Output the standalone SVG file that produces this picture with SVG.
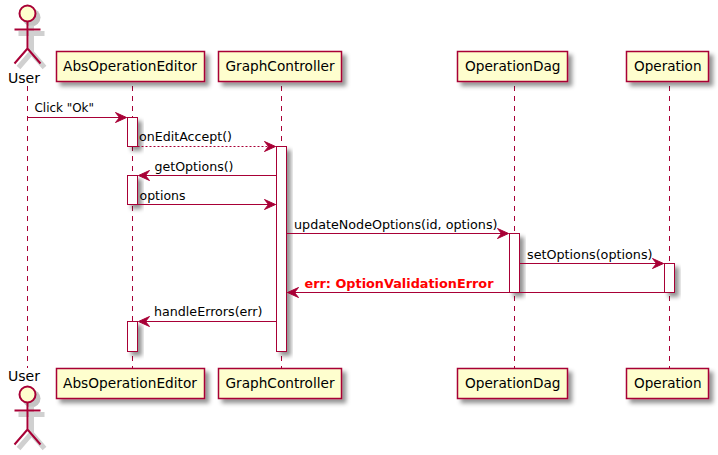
<svg xmlns="http://www.w3.org/2000/svg" width="718" height="455" viewBox="0 0 718 455">
<defs>
<filter id="sh" filterUnits="objectBoundingBox" x="-40%" y="-40%" width="200%" height="200%"><feGaussianBlur in="SourceAlpha" stdDeviation="2" result="b"/><feOffset in="b" dx="4" dy="4" result="o"/><feFlood flood-color="#000" flood-opacity="0.42" result="f"/><feComposite in="f" in2="o" operator="in" result="s"/><feMerge><feMergeNode in="s"/><feMergeNode in="SourceGraphic"/></feMerge></filter>
<marker id="ar" markerUnits="userSpaceOnUse" markerWidth="13" markerHeight="12" refX="12" refY="6" orient="auto"><path d="M1,1 L12,6 L1,11 L5,6 Z" fill="#A80036" stroke="#A80036" stroke-width="1"/></marker>
</defs>
<style>
text{font-family:"DejaVu Sans",sans-serif;font-size:13px;fill:#000}
.box{fill:#FEFECE;stroke:#A80036;stroke-width:1.5;filter:url(#sh)}
.act{fill:#fff;stroke:#A80036;stroke-width:1;filter:url(#sh)}
.life{stroke:#A80036;stroke-width:1;stroke-dasharray:5,5;fill:none}
.msg{stroke:#A80036;stroke-width:1;fill:none;marker-end:url(#ar)}
.actor{fill:none;stroke:#A80036;stroke-width:2}
.head{fill:#FEFECE;stroke:#A80036;stroke-width:2}
.sb{fill:none;stroke:#d0d0d0;stroke-width:5}
.sh{fill:#c4c4c4}
.pt{font-size:14px}
.err{fill:#FF0000;font-weight:bold}
</style>
<g id="lifelines">
<line class="life" x1="27.5" y1="86" x2="27.5" y2="368"/>
<line class="life" x1="132.5" y1="86" x2="132.5" y2="368"/>
<line class="life" x1="281.5" y1="86" x2="281.5" y2="368"/>
<line class="life" x1="514.5" y1="86" x2="514.5" y2="368"/>
<line class="life" x1="669.5" y1="86" x2="669.5" y2="368"/>
</g>
<g id="activations">
<rect class="act" x="127.5" y="117.5" width="10" height="29"/>
<rect class="act" x="127.5" y="175.5" width="10" height="29"/>
<rect class="act" x="127.5" y="321.5" width="10" height="30"/>
<rect class="act" x="276.5" y="146.5" width="10" height="205"/>
<rect class="act" x="509.5" y="233.5" width="10" height="59"/>
<rect class="act" x="664.5" y="263.5" width="10" height="29"/>
</g>
<g id="connectors">
<line class="msg" x1="27.5" y1="117.5" x2="126.5" y2="117.5"/>
<line class="msg" x1="137.5" y1="146.5" x2="275.5" y2="146.5" stroke-dasharray="2,2"/>
<line class="msg" x1="276.5" y1="175.5" x2="138.5" y2="175.5"/>
<line class="msg" x1="137.5" y1="204.5" x2="275.5" y2="204.5"/>
<line class="msg" x1="286.5" y1="233.5" x2="508.5" y2="233.5"/>
<line class="msg" x1="519.5" y1="263.5" x2="663.5" y2="263.5"/>
<line class="msg" x1="664.5" y1="292.5" x2="287.5" y2="292.5"/>
<line class="msg" x1="276.5" y1="321.5" x2="138.5" y2="321.5"/>
</g>
<g id="labels">
<text x="34.500" y="112" textLength="59.500" lengthAdjust="spacingAndGlyphs">Click "Ok"</text>
<text x="139" y="141" textLength="93" lengthAdjust="spacingAndGlyphs">onEditAccept()</text>
<text x="154.500" y="171" textLength="79" lengthAdjust="spacingAndGlyphs">getOptions()</text>
<text x="139.500" y="200" textLength="46" lengthAdjust="spacingAndGlyphs">options</text>
<text x="294" y="229" textLength="203.500" lengthAdjust="spacingAndGlyphs">updateNodeOptions(id, options)</text>
<text x="527" y="258.500" textLength="125.500" lengthAdjust="spacingAndGlyphs">setOptions(options)</text>
<text class="err" x="304.500" y="287.500" textLength="189" lengthAdjust="spacingAndGlyphs">err: OptionValidationError</text>
<text x="154" y="316" textLength="108.500" lengthAdjust="spacingAndGlyphs">handleErrors(err)</text>
</g>
<g id="user-top">
<circle class="sh" cx="31.500" cy="17.500" r="9"/>
<path class="sb" d="M31.500 25.500V52.500M18.500 33.500H44.500M31.500 52.500L18.500 67.500M31.500 52.500L44.500 67.500"/>
<circle class="head" cx="27.500" cy="13.500" r="8"/>
<path class="actor" d="M27.500 21.500V48.500M14.500 29.500H40.500M27.500 48.500L14.500 63.500M27.500 48.500L40.500 63.500"/>
<text class="pt" x="8" y="83" textLength="32" lengthAdjust="spacingAndGlyphs">User</text>
</g>
<g id="user-bottom">
<circle class="sh" cx="31.500" cy="398.500" r="9"/>
<path class="sb" d="M31.500 406.500V433.500M18.500 414.500H44.500M31.500 433.500L18.500 448.500M31.500 433.500L44.500 448.500"/>
<text class="pt" x="8" y="381" textLength="32" lengthAdjust="spacingAndGlyphs">User</text>
<circle class="head" cx="27.500" cy="394.500" r="8"/>
<path class="actor" d="M27.500 402.500V429.500M14.500 410.500H40.500M27.500 429.500L14.500 444.500M27.500 429.500L40.500 444.500"/>
</g>
<g id="abs-top"><rect class="box" x="56.500" y="51.500" width="148" height="30"/><text class="pt" x="63" y="71" textLength="134" lengthAdjust="spacingAndGlyphs">AbsOperationEditor</text></g>
<g id="graph-top"><rect class="box" x="218.500" y="51.500" width="123" height="30"/><text class="pt" x="225.500" y="71" textLength="109" lengthAdjust="spacingAndGlyphs">GraphController</text></g>
<g id="dag-top"><rect class="box" x="457.500" y="51.500" width="110" height="30"/><text class="pt" x="465" y="71" textLength="95.500" lengthAdjust="spacingAndGlyphs">OperationDag</text></g>
<g id="op-top"><rect class="box" x="626.500" y="51.500" width="82" height="30"/><text class="pt" x="634" y="71" textLength="67.500" lengthAdjust="spacingAndGlyphs">Operation</text></g>
<g id="abs-bottom"><rect class="box" x="56.500" y="368.500" width="148" height="30"/><text class="pt" x="63" y="388" textLength="134" lengthAdjust="spacingAndGlyphs">AbsOperationEditor</text></g>
<g id="graph-bottom"><rect class="box" x="218.500" y="368.500" width="123" height="30"/><text class="pt" x="225.500" y="388" textLength="109" lengthAdjust="spacingAndGlyphs">GraphController</text></g>
<g id="dag-bottom"><rect class="box" x="457.500" y="368.500" width="110" height="30"/><text class="pt" x="465" y="388" textLength="95.500" lengthAdjust="spacingAndGlyphs">OperationDag</text></g>
<g id="op-bottom"><rect class="box" x="626.500" y="368.500" width="82" height="30"/><text class="pt" x="634" y="388" textLength="67.500" lengthAdjust="spacingAndGlyphs">Operation</text></g>
</svg>
